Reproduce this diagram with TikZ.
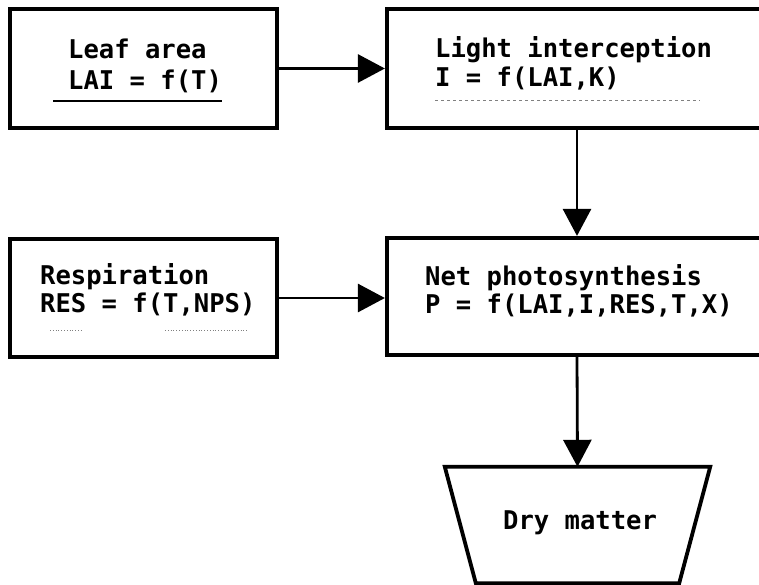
\documentclass[tikz,border=0pt]{standalone}
\usepackage{fontspec}
\newfontfamily\typefont[FakeStretch=0.99]{DejaVu Sans Mono}
\usetikzlibrary{arrows.meta}
\begin{document}
\begin{tikzpicture}[x=1pt,y=-1pt,
  boxstyle/.style={draw, line width=4.2pt, inner sep=0pt},
  txt/.style={inner sep=0pt, anchor=base west, font=\typefont\bfseries\fontsize{25.8}{28}\selectfont},
  arr/.style={line width=2.8pt, -{Triangle[length=27pt,width=28pt]}},
  uline/.style={line width=1.4pt}
]
\useasboundingbox (0,0) rectangle (759,585);
\clip (0,0) rectangle (759,585);
% boxes
\node[boxstyle, minimum width=267pt, minimum height=119pt] (leaf) at (143.5,68.5) {};
\node[boxstyle, minimum width=380pt, minimum height=119pt] (light) at (577,68.5) {};
\node[boxstyle, minimum width=267pt, minimum height=118pt] (resp) at (143.5,298) {};
\node[boxstyle, minimum width=380pt, minimum height=117pt] (net) at (577,296.5) {};
\node[inner sep=0pt, minimum width=265pt, minimum height=116pt] (dry) at (577.5,525) {};
\draw[line width=3.8pt, line join=miter] (dry.north west) -- (dry.north east)
  -- ([xshift=-31pt]dry.south east) -- ([xshift=31pt]dry.south west) -- cycle;
% texts
\node[txt] (leafa) at (68,59) {Leaf area};
\node[txt] (leafb) at (68,90) {LAI = f(T)};
\node[txt] (lighta) at (435,58) {Light interception};
\node[txt] (lightb) at (435,87) {I = f(LAI,K)};
\node[txt] (respa) at (40,284) {Respiration};
\node[txt] (respb) at (40,312) {RES = f(T,NPS)};
\node[txt] (neta) at (425,285) {Net photosynthesis};
\node[txt] (netb) at (425,313) {P = f(LAI,I,RES,T,X)};
\node[txt] (drya) at (503,529) {Dry matter};
% underlines
\draw[uline] (53,101) -- (222,101);
\draw[uline, gray, dashed, line width=0.8pt] (435,100) -- (700,100);
\draw[gray, dotted, line width=0.8pt] (50,330) -- (82,330) (165,330) -- (248,330);
% connectors
\draw[arr] (leaf.east) -- (leaf.east -| light.west);
\draw[arr] (light.south) -- (net.north);
\draw[arr] (resp.east) -- (resp.east -| net.west);
\draw[arr] (net.south) -- (dry.north);
\end{tikzpicture}
\end{document}
